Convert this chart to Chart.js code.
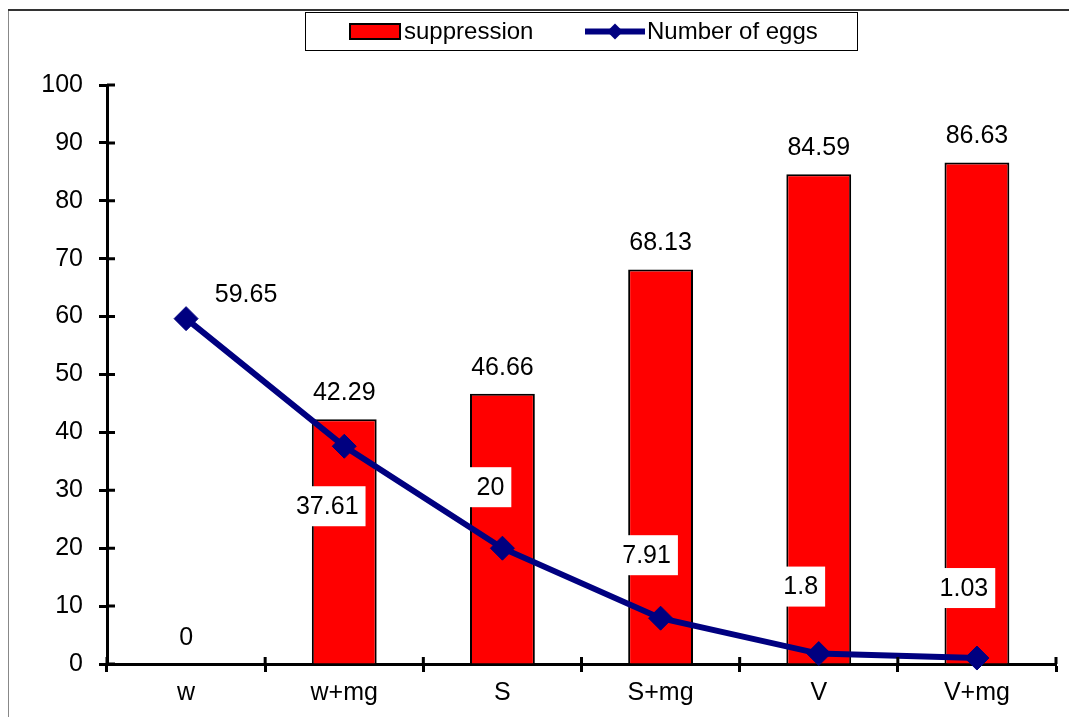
<!DOCTYPE html>
<html>
<head>
<meta charset="utf-8">
<script src="https://cdn.jsdelivr.net/npm/chart.js@4"></script>
<style>
  html, body { margin: 0; padding: 0; background: #fff; }
  #wrap { width: 1069px; height: 717px; }
</style>
</head>
<body>
<div id="wrap"><canvas id="eggChart" width="1069" height="717"></canvas></div>
<script>
const categories = ['w', 'w+mg', 'S', 'S+mg', 'V', 'V+mg'];
const suppression = [0, 42.29, 46.66, 68.13, 84.59, 86.63];
const eggs = [59.65, 37.61, 20, 7.91, 1.8, 1.03];
const yTicks = [0, 10, 20, 30, 40, 50, 60, 70, 80, 90, 100];

const FONT = '"Liberation Sans", Arial, sans-serif';
const FSIZE = 25;

// egg labels were moved by hand in the original
const lineLabelOff = [[60, -25], [-17, 60], [-12, -61], [-14, -63], [-18, -67], [-13, -70]];

const extras = {
    id: 'extras',
    afterDraw(chart) {
        const ctx = chart.ctx;
        const area = chart.chartArea;
        const ys = chart.scales.y;
        ctx.save();

        // outer frame
        ctx.strokeStyle = '#888';
        ctx.lineWidth = 1;
        ctx.beginPath();
        ctx.moveTo(8.5, 9);
        ctx.lineTo(8.5, 717);
        ctx.stroke();
        ctx.strokeStyle = '#333';
        ctx.lineWidth = 2;
        ctx.beginPath();
        ctx.moveTo(8, 10);
        ctx.lineTo(1069, 10);
        ctx.stroke();

        // inner half of crossing ticks
        ctx.strokeStyle = '#000';
        ctx.lineWidth = 3;
        ctx.beginPath();
        yTicks.forEach(v => {
            const y = ys.getPixelForValue(v);
            ctx.moveTo(area.left, y);
            ctx.lineTo(area.left + 8, y);
        });
        for (let i = 0; i <= categories.length; i++) {
            const x = area.left + (area.right - area.left) * i / categories.length;
            ctx.moveTo(x, area.bottom);
            ctx.lineTo(x, area.bottom - 7);
        }
        ctx.stroke();

        // data labels
        ctx.font = FSIZE + 'px ' + FONT;
        ctx.textAlign = 'center';
        ctx.textBaseline = 'middle';
        chart.getDatasetMeta(0).data.forEach((el, i) => {
            ctx.fillStyle = '#000';
            ctx.fillText(String(suppression[i]), el.x, el.y - 26);
        });
        chart.getDatasetMeta(1).data.forEach((el, i) => {
            const txt = String(eggs[i]);
            const cx = el.x + lineLabelOff[i][0];
            const cy = el.y + lineLabelOff[i][1];
            const w = ctx.measureText(txt).width + 14;
            const h = 40;
            ctx.fillStyle = '#fff';
            ctx.fillRect(cx - w / 2, cy - h / 2, w, h);
            ctx.fillStyle = '#000';
            ctx.fillText(txt, cx, cy + 1);
        });

        // legend
        const ds = chart.data.datasets;
        ctx.font = '24px ' + FONT;
        ctx.strokeStyle = '#000';
        ctx.lineWidth = 1;
        ctx.strokeRect(305.5, 12.5, 552, 38);
        ctx.fillStyle = '#ff0000';
        ctx.fillRect(350, 24, 50, 15);
        ctx.lineWidth = 2;
        ctx.strokeRect(350, 24, 50, 15);
        ctx.textAlign = 'left';
        ctx.fillStyle = '#000';
        ctx.fillText(ds[0].label, 404, 32);
        ctx.strokeStyle = '#000080';
        ctx.lineWidth = 6;
        ctx.beginPath();
        ctx.moveTo(585, 31.5);
        ctx.lineTo(645, 31.5);
        ctx.stroke();
        ctx.fillStyle = '#000080';
        ctx.beginPath();
        ctx.moveTo(607, 31.5);
        ctx.lineTo(615, 23.5);
        ctx.lineTo(623, 31.5);
        ctx.lineTo(615, 39.5);
        ctx.closePath();
        ctx.fill();
        ctx.fillStyle = '#000';
        ctx.fillText(ds[1].label, 647, 32);

        ctx.restore();
    }
};

new Chart(document.getElementById('eggChart'), {
    type: 'bar',
    data: {
        labels: categories,
        datasets: [{
            type: 'bar',
            label: 'suppression',
            data: suppression,
            backgroundColor: '#ff0000',
            borderColor: '#000',
            borderWidth: 2,
            barPercentage: 0.41,
            categoryPercentage: 1,
            order: 1
        }, {
            type: 'line',
            label: 'Number of eggs',
            data: eggs,
            borderColor: '#000080',
            backgroundColor: '#000080',
            borderWidth: 6,
            pointStyle: 'rectRot',
            pointRadius: 12,
            pointBorderWidth: 1,
            fill: false,
            tension: 0,
            clip: false,
            order: 0
        }]
    },
    options: {
        responsive: false,
        animation: false,
        layout: { padding: { left: 0, top: 85, right: 11, bottom: 0 } },
        plugins: {
            legend: { display: false },
            tooltip: { enabled: false }
        },
        scales: {
            x: {
                offset: true,
                afterFit: s => { s.height = 53; },
                grid: {
                    offset: true,
                    drawOnChartArea: false,
                    tickLength: 8,
                    tickWidth: 3,
                    tickColor: '#000'
                },
                border: { color: '#000', width: 3 },
                ticks: {
                    color: '#000',
                    padding: 6,
                    font: { family: FONT, size: FSIZE }
                }
            },
            y: {
                min: 0,
                max: 100,
                afterFit: s => { s.width = 107; },
                afterBuildTicks: s => { s.ticks = yTicks.map(v => ({ value: v })); },
                grid: {
                    drawOnChartArea: false,
                    tickLength: 8,
                    tickWidth: 3,
                    tickColor: '#000'
                },
                border: { color: '#000', width: 3 },
                ticks: {
                    color: '#000',
                    padding: 16,
                    font: { family: FONT, size: FSIZE }
                }
            }
        }
    },
    plugins: [extras]
});
</script>
</body>
</html>
